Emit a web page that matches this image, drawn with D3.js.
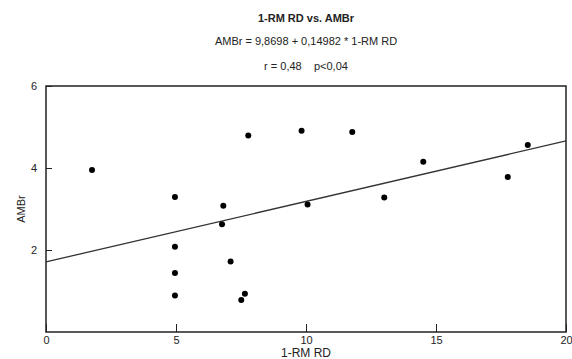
<!DOCTYPE html>
<html>
<head>
<meta charset="utf-8">
<script src="https://cdn.jsdelivr.net/npm/d3@7/dist/d3.min.js"></script>
<style>
  body { margin: 0; background: #fff; }
  svg text { font-family: "Liberation Sans", Arial, sans-serif; fill: #222; }
</style>
</head>
<body>
<svg id="chart" width="572" height="359"></svg>
<script>
// values
var rmRD = [1.77, 4.96, 4.96, 4.96, 4.96, 6.77, 7.10, 7.65, 7.51, 7.78, 9.83, 11.78, 6.82, 10.06, 13.01, 14.51, 17.76, 18.53];
var ambr = [3.95, 3.29, 2.08, 1.44, 0.89, 2.63, 1.72, 0.93, 0.78, 4.79, 4.91, 4.88, 3.08, 3.11, 3.28, 4.15, 3.78, 4.56];
var fitX = [0, 20];
var fitY = [1.71, 4.66];
var xTicks = [0, 5, 10, 15, 20];
var yTicks = [2, 4, 6];
var titleLines = ["1-RM RD vs. AMBr", "AMBr = 9,8698 + 0,14982 * 1-RM RD", "r = 0,48    p<0,04"];

var margin = {top: 86, right: 6, bottom: 27, left: 46};
var width = 572 - margin.left - margin.right;
var height = 359 - margin.top - margin.bottom;

var svg = d3.select('#chart');
var g = svg.append('g')
    .attr('transform', 'translate(' + margin.left + ',' + margin.top + ')');

var x = d3.scaleLinear().domain([0, 20]).range([0, width]);
var y = d3.scaleLinear().domain([0, 6]).range([height, 0]);

// titles
svg.selectAll('text.title')
    .data(titleLines)
    .enter()
    .append('text')
    .attr('class', 'title')
    .attr('x', margin.left + width / 2)
    .attr('y', (d, i) => [22, 45, 70][i])
    .attr('text-anchor', 'middle')
    .style('font-size', '11px')
    .style('font-weight', (d, i) => i == 0 ? 'bold' : 'normal')
    .style('white-space', 'pre')
    .text(d => d);

// axes with inward ticks
var xAxis = g.append('g')
    .attr('transform', 'translate(0,' + height + ')')
    .call(d3.axisBottom(x).tickValues(xTicks).tickFormat(d3.format('d')).tickSizeInner(-8).tickSizeOuter(0).tickPadding(4));
var yAxis = g.append('g')
    .call(d3.axisLeft(y).tickValues(yTicks).tickFormat(d3.format('d')).tickSizeInner(-6).tickSizeOuter(0).tickPadding(9));

[xAxis, yAxis].forEach(function(a) {
  a.select('.domain').remove();
  a.selectAll('line').attr('stroke', '#222');
  a.selectAll('text').style('font-size', '11px').style('font-family', '"Liberation Sans", Arial, sans-serif').attr('fill', '#222');
});

// frame
g.append('rect')
    .attr('x', 0)
    .attr('y', 0)
    .attr('width', width)
    .attr('height', height)
    .attr('fill', 'none')
    .attr('stroke', '#222')
    .attr('stroke-width', 1.5);

// regression line
var line = d3.line()
    .x(d => x(d[0]))
    .y(d => y(d[1]));
g.append('path')
    .datum(d3.zip(fitX, fitY))
    .attr('d', line)
    .attr('stroke', '#333')
    .attr('stroke-width', 1.3)
    .attr('fill', 'none');

// points
g.append('g')
    .selectAll('circle')
    .data(d3.zip(rmRD, ambr))
    .enter()
    .append('circle')
    .attr('cx', d => x(d[0]))
    .attr('cy', d => y(d[1]))
    .attr('r', 3)
    .attr('fill', '#000');

// axis titles
svg.append('text')
    .attr('x', margin.left + width / 2)
    .attr('y', 357)
    .attr('text-anchor', 'middle')
    .style('font-size', '12px')
    .text('1-RM RD');
svg.append('text')
    .attr('transform', 'translate(25,' + (margin.top + height / 2) + ') rotate(-90)')
    .attr('text-anchor', 'middle')
    .style('font-size', '11px')
    .text('AMBr');
</script>
</body>
</html>
